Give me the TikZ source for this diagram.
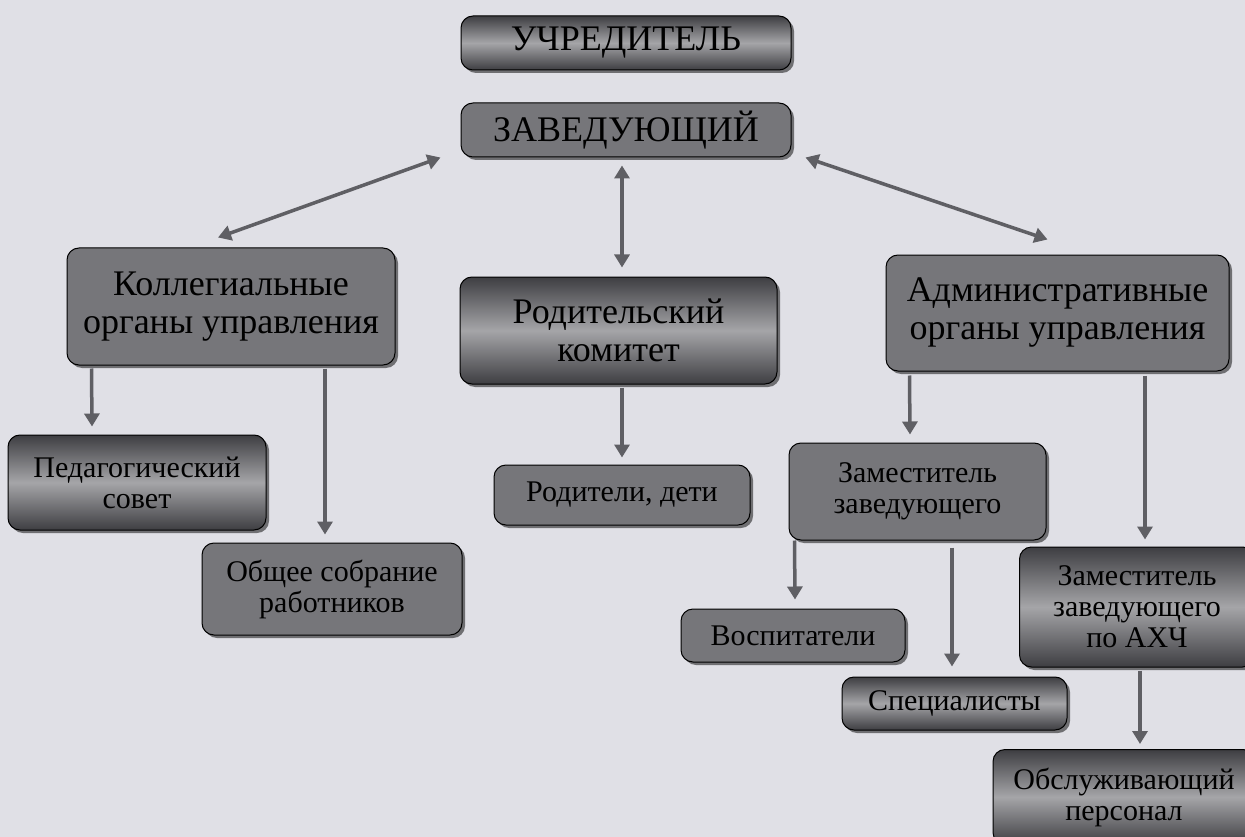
\documentclass[tikz,border=0pt]{standalone}
\usepackage{fontspec}
\setmainfont{Liberation Serif}
\usetikzlibrary{shadows,arrows.meta}
\definecolor{paper}{RGB}{224,224,230}
\definecolor{boxdark}{RGB}{62,62,66}
\definecolor{boxmid}{RGB}{165,165,168}
\definecolor{boxpale}{RGB}{118,118,122}
\definecolor{arrowgray}{RGB}{95,95,100}
\tikzset{orgbox/.style={draw=black, line width=1pt, rounded corners=12pt, top color=boxdark, bottom color=boxdark, middle color=boxmid, drop shadow={shadow xshift=3pt, shadow yshift=-3pt, fill=black}, align=center, inner sep=0pt, text=black},
  palebox/.style={orgbox, top color=boxpale, bottom color=boxpale},
  bigtext/.style={font=\fontsize{36}{40}\selectfont},
  midtext/.style={font=\fontsize{36}{38}\selectfont},
  smalltext/.style={font=\fontsize{30}{31}\selectfont},
  link/.style={draw=arrowgray, line width=3.5pt, -{Triangle[length=13pt,width=15pt]}},
  twoway/.style={link, {Triangle[length=13pt,width=15pt]}-{Triangle[length=13pt,width=15pt]}}}

\begin{document}
\begin{tikzpicture}[x=1pt,y=-1pt]
   \fill[paper] (0,0) rectangle (1245,837);
   \useasboundingbox (0,0) rectangle (1245,837);
   \clip (0,0) rectangle (1245,837);
   \node[orgbox, bigtext, minimum width=330pt, minimum height=54pt] (uchr) at (626,43) {УЧРЕДИТЕЛЬ};
   \node[palebox, bigtext, minimum width=330pt, minimum height=54pt] (zav) at (626,130) {ЗАВЕДУЮЩИЙ};
   \node[palebox, midtext, minimum width=328pt, minimum height=117pt] (koll) at (231,306.5) {Коллегиальные\\органы управления};
   \node[orgbox, midtext, minimum width=317pt, minimum height=107pt] (rod) at (618.5,330.5) {Родительский\\комитет};
   \node[palebox, midtext, minimum width=343pt, minimum height=116pt] (adm) at (1057.5,313) {Административные\\органы управления};
   \node[orgbox, smalltext, minimum width=258pt, minimum height=95pt] (ped) at (137,482.5) {Педагогический\\совет};
   \node[palebox, smalltext, minimum width=260pt, minimum height=92pt] (obsh) at (332,589) {Общее собрание\\работников};
   \node[palebox, smalltext, minimum width=256pt, minimum height=60pt] (rodit) at (622,495) {Родители, дети};
   \node[palebox, smalltext, minimum width=257pt, minimum height=97pt] (zam) at (917.5,491.5) {Заместитель\\заведующего};
   \node[palebox, smalltext, minimum width=224pt, minimum height=53pt] (vosp) at (793,635.5) {Воспитатели};
   \node[orgbox, smalltext, minimum width=225pt, minimum height=53pt] (spec) at (954.5,703.5) {Специалисты};
   \node[orgbox, smalltext, minimum width=235pt, minimum height=120pt] (ahch) at (1137,607) {Заместитель\\заведующего\\по АХЧ};
   \node[orgbox, smalltext, minimum width=262pt, minimum height=95pt] (obsl) at (1124,797) {Обслуживающий\\персонал};
   \draw[twoway] ([xshift=-20pt]zav.south west) -- ([xshift=-13pt,yshift=10pt]koll.north);
   \draw[twoway] ([xshift=-4pt,yshift=-8pt]zav.south) -- ([xshift=3.5pt,yshift=9pt]rod.north);
   \draw[twoway] ([xshift=14pt]zav.south east) -- ([xshift=-10pt,yshift=15pt]adm.north);
   \draw[link] ([xshift=25pt,yshift=-3pt]koll.south west) -- ([xshift=-45pt,yshift=8pt]ped.north);
   \draw[link] ([xshift=94pt,yshift=-3pt]koll.south) -- ([xshift=-7pt,yshift=8pt]obsh.north);
   \draw[link] ([xshift=3.5pt,yshift=-3pt]rod.south) -- ([yshift=7pt]rodit.north);
   \draw[link] ([xshift=24pt,yshift=-4pt]adm.south west) -- ([xshift=-7.5pt,yshift=8pt]zam.north);
   \draw[link] ([xshift=87.5pt,yshift=-4pt]adm.south) -- ([xshift=8pt,yshift=7pt]ahch.north);
   \draw[link] ([xshift=6pt]zam.south west) -- ([xshift=2pt,yshift=9pt]vosp.north);
   \draw[link] ([xshift=34.5pt,yshift=-7pt]zam.south) -- ([xshift=-2.5pt,yshift=10pt]spec.north);
   \draw[link] ([xshift=3pt,yshift=-3pt]ahch.south) -- ([xshift=16pt,yshift=5pt]obsl.north);
\end{tikzpicture}
\end{document}
